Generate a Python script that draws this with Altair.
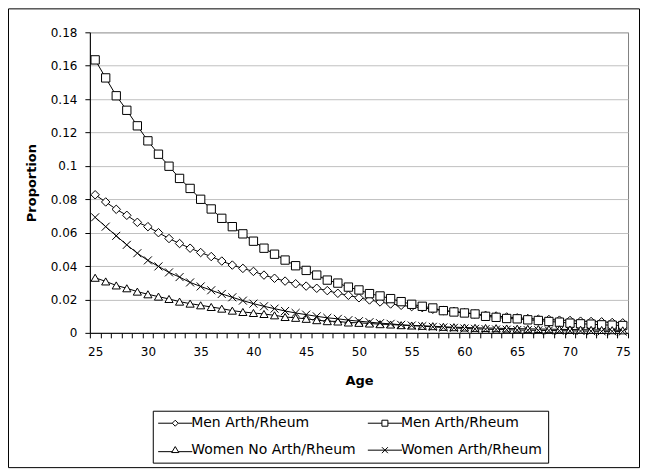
import altair as alt
import pandas as pd

ages = list(range(25, 76))
series_keys = ["s1", "s2", "s3", "s4"]
series_labels = ["Men Arth/Rheum", "Men Arth/Rheum", "Women No Arth/Rheum", "Women Arth/Rheum"]

men_diamond = [0.0827, 0.0784, 0.0740, 0.0704, 0.0662, 0.0636, 0.0600, 0.0565, 0.0535, 0.0507,
               0.0481, 0.0457, 0.0430, 0.0406, 0.0386, 0.0368, 0.0346, 0.0327, 0.0310, 0.0294,
               0.0280, 0.0267, 0.0253, 0.0237, 0.0225, 0.0210, 0.0197, 0.0185, 0.0173, 0.0165,
               0.0157, 0.0151, 0.0141, 0.0133, 0.0129, 0.0121, 0.0113, 0.0105, 0.0101, 0.0095,
               0.0090, 0.0086, 0.0082, 0.0080, 0.0076, 0.0074, 0.0070, 0.0068, 0.0066, 0.0062,
               0.0060]
men_square = [0.1635, 0.1527, 0.1420, 0.1333, 0.1240, 0.1150, 0.1070, 0.0998, 0.0925, 0.0865,
              0.0800, 0.0742, 0.0686, 0.0636, 0.0593, 0.0549, 0.0507, 0.0471, 0.0436, 0.0402,
              0.0374, 0.0346, 0.0316, 0.0298, 0.0274, 0.0257, 0.0235, 0.0221, 0.0205, 0.0187,
              0.0171, 0.0159, 0.0149, 0.0133, 0.0125, 0.0119, 0.0113, 0.0099, 0.0093, 0.0086,
              0.0084, 0.0078, 0.0074, 0.0068, 0.0064, 0.0058, 0.0054, 0.0052, 0.0048, 0.0046,
              0.0044]
women_no = [0.0330, 0.0308, 0.0284, 0.0267, 0.0247, 0.0231, 0.0217, 0.0203, 0.0187, 0.0175,
            0.0165, 0.0155, 0.0145, 0.0133, 0.0125, 0.0119, 0.0113, 0.0105, 0.0095, 0.0090,
            0.0084, 0.0076, 0.0070, 0.0068, 0.0062, 0.0060, 0.0056, 0.0052, 0.0050, 0.0046,
            0.0044, 0.0042, 0.0040, 0.0036, 0.0034, 0.0032, 0.0030, 0.0029, 0.0028, 0.0026,
            0.0025, 0.0024, 0.0023, 0.0022, 0.0021, 0.0020, 0.0019, 0.0018, 0.0017, 0.0016,
            0.0015]
women_arth = [0.0692, 0.0636, 0.0581, 0.0527, 0.0477, 0.0434, 0.0398, 0.0362, 0.0334, 0.0302,
              0.0278, 0.0255, 0.0233, 0.0213, 0.0193, 0.0175, 0.0159, 0.0145, 0.0131, 0.0119,
              0.0109, 0.0099, 0.0090, 0.0084, 0.0076, 0.0070, 0.0064, 0.0058, 0.0054, 0.0048,
              0.0044, 0.0040, 0.0036, 0.0032, 0.0030, 0.0026, 0.0024, 0.0022, 0.0020, 0.0019,
              0.0017, 0.0016, 0.0015, 0.0014, 0.0013, 0.0012, 0.0011, 0.0010, 0.0009, 0.0009,
              0.0008]

y_ticks = [0, 0.02, 0.04, 0.06, 0.08, 0.1, 0.12, 0.14, 0.16, 0.18]

rows = []
for key, vals in zip(series_keys, [men_diamond, men_square, women_no, women_arth]):
    for a, v in zip(ages, vals):
        rows.append({"age": a, "value": v, "series": key})
df = pd.DataFrame(rows)

W, H = 539, 301

x_tick_values = sorted([a - 0.5 for a in ages] + ages + [ages[-1] + 0.5])

x_enc = alt.X(
    "age:Q",
    scale=alt.Scale(domain=[24.5, 75.5], nice=False, zero=False),
    axis=alt.Axis(
        values=x_tick_values,
        title="Age",
        labelExpr="datum.value % 5 == 0 ? format(datum.value, 'd') : ''",
        tickOpacity={"condition": {"test": "datum.value % 1 != 0", "value": 1}, "value": 0},
        labelOverlap=False,
        grid=False,
        tickSize=5,
        labelPadding=9,
        titleY=48,
        titleBaseline="middle",
    ),
)
y_enc = alt.Y(
    "value:Q",
    scale=alt.Scale(domain=[0, 0.18], nice=False),
    axis=alt.Axis(
        values=y_ticks,
        format="~g",
        title="Proportion",
        grid=True,
        gridColor="#c0c0c0",
        tickSize=5,
        labelPadding=8,
        titleX=-58.5,
        titleY=H / 2,
        titleAngle=-90,
        titleBaseline="middle",
        titleAlign="center",
    ),
)

shape_range = ["diamond", "square", "triangle-up", "M-1,-1L1,1M-1,1L1,-1"]
size_range = [72, 64, 72, 56]
legend_paths = [
    "M-5.7,0L-1,0M1,0L5.7,0M0,-1L1,0L0,1L-1,0Z",
    "M-5.7,0L-1,0M1,0L5.7,0M-1,-1L1,-1L1,1L-1,1Z",
    "M-5.7,0.5L-1,0.5M1,0.5L5.7,0.5M0,-1.2L1.2,0.8L-1.2,0.8Z",
    "M-5.7,0L5.7,0M-1,-1L1,1M-1,1L1,-1",
]

label_expr = ""
for k, lab in zip(series_keys, series_labels):
    label_expr += f"datum.value == '{k}' ? '{lab}' : "
label_expr += "''"

lines = alt.Chart(df).mark_line(color="black", strokeWidth=1).encode(
    x=x_enc, y=y_enc, detail="series:N"
)

points = alt.Chart(df).mark_point(
    filled=True, fill="white", stroke="black", strokeWidth=1, opacity=1
).encode(
    x=x_enc,
    y=y_enc,
    shape=alt.Shape("series:N", scale=alt.Scale(domain=series_keys, range=shape_range), legend=None),
    size=alt.Size("series:N", scale=alt.Scale(domain=series_keys, range=size_range), legend=None),
)

legend_layer = alt.Chart(df).mark_point(
    filled=False, color="black", strokeWidth=1, size=36, opacity=0
).encode(
    x=x_enc,
    y=y_enc,
    shape=alt.Shape(
        "series:N",
        scale=alt.Scale(domain=series_keys, range=legend_paths),
        legend=alt.Legend(
            title=None,
            orient="none",
            legendX=63,
            legendY=379,
            direction="horizontal",
            columns=2,
            labelExpr=label_expr,
            symbolSize=36,
            symbolOpacity=1,
            symbolStrokeWidth=1,
            symbolStrokeColor="black",
            labelFont="DejaVu Sans",
            labelFontSize=14,
            labelColor="black",
            strokeColor="black",
            fillColor="white",
            padding=5.5,
            rowPadding=13,
            columnPadding=9,
            symbolOffset=10,
            labelOffset=9,
            labelLimit=400,
        ),
    ),
)

border = alt.Chart(pd.DataFrame({"k": [0]})).mark_rect(
    fillOpacity=0, stroke="black", strokeWidth=1
).encode(
    x=alt.value(-81.5), x2=alt.value(550.5), y=alt.value(-23.5), y2=alt.value(436)
)

chart = alt.layer(border, lines, points, legend_layer).resolve_scale(
    shape="independent", size="independent"
).properties(
    width=W,
    height=H,
    padding={"left": 82, "top": 24, "right": 12, "bottom": 136},
    autosize=alt.AutoSizeParams(type="none"),
    background="white",
).configure_view(
    stroke="#808080", strokeWidth=1
).configure_axis(
    domainColor="black",
    tickColor="black",
    labelColor="black",
    labelFont="DejaVu Sans",
    labelFontSize=12,
    titleFont="DejaVu Sans",
    titleFontSize=13,
    titleFontWeight="bold",
    titleColor="black",
)

chart.save("out.html", embed_options={"renderer": "svg", "actions": False})
